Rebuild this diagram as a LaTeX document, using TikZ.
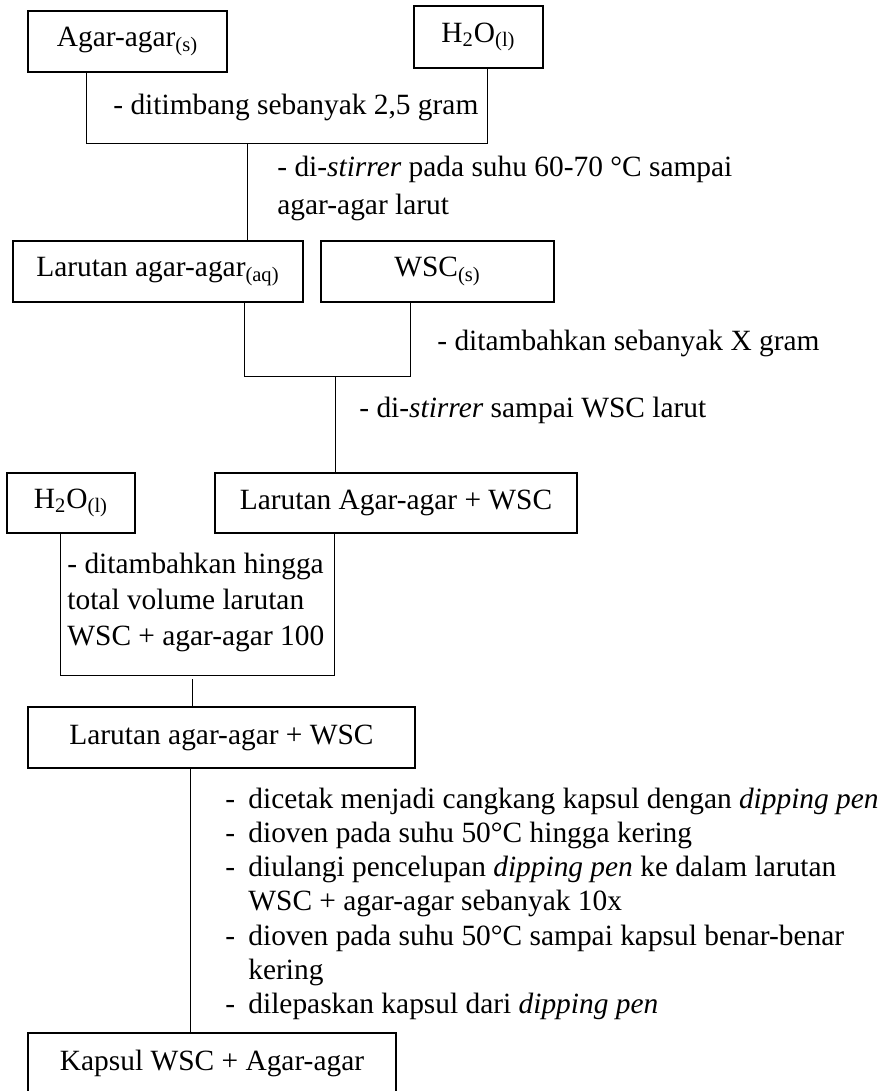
\documentclass[tikz,border=0pt]{standalone}
\usepackage{fontspec}
\setmainfont{Liberation Serif}
\begin{document}
\begin{tikzpicture}[x=0.5pt,y=-0.5pt,
  box/.style={draw, line width=1pt, inner sep=0pt, font=\fontsize{14.7}{17.5}\selectfont},
  conn/.style={draw, line width=0.5pt},
  note/.style={anchor=base west, inner sep=0pt, font=\fontsize{14.7}{17.5}\selectfont}]
\useasboundingbox (0,0) rectangle (885,1091);
\clip (0,0) rectangle (885,1091);

% boxes
\node[box, minimum width=99.5pt, minimum height=30.5pt] (A)  at (127.5,41.5) {Agar-agar\textsubscript{(s)}};
\node[box, minimum width=64.5pt, minimum height=31pt]   (H1) at (478.5,37)   {H\textsubscript{2}O\textsubscript{(l)}};
\node[box, minimum width=145pt,  minimum height=30.5pt] (L1) at (158,271.5)  {Larutan agar-agar\textsubscript{(aq)}};
\node[box, minimum width=116.5pt,minimum height=30.5pt] (W)  at (437.5,271.5){WSC\textsubscript{(s)}};
\node[box, minimum width=64pt,   minimum height=30pt]   (H2) at (71,503)     {H\textsubscript{2}O\textsubscript{(l)}};
\node[box, minimum width=181pt,  minimum height=30pt]   (L2) at (396,503)    {Larutan Agar-agar + WSC};
\node[box, minimum width=193.5pt,minimum height=30.5pt] (L3) at (221.5,737.5){Larutan agar-agar + WSC};
\node[box, minimum width=184pt,  minimum height=30.5pt] (K)  at (212,1063.5) {Kapsul WSC + Agar-agar};

% junction points
\coordinate (b1l) at (86,144);  \coordinate (b1r) at (487,144); \coordinate (m1) at (247,144);
\coordinate (b2l) at (244,376); \coordinate (b2r) at (410,376); \coordinate (m2) at (335,376);
\coordinate (b3l) at (60,675);  \coordinate (b3r) at (334,675); \coordinate (m3) at (192,679);
\coordinate (m4) at (190,768);

% connectors
\draw[conn] (A.south -| b1l) -- (b1l) -- (b1r) -- (H1.south -| b1r);
\draw[conn] (m1) -- (L1.north -| m1);
\draw[conn] (L1.south -| b2l) -- (b2l) -- (b2r) -- (W.south -| b2r);
\draw[conn] (m2) -- (L2.north -| m2);
\draw[conn] (H2.south -| b3l) -- (b3l) -- (b3r) -- (L2.south -| b3r);
\draw[conn] (m3) -- (L3.north -| m3);
\draw[conn] (L3.south -| m4) -- (K.north -| m4);

% step notes
\node[note] (t1)  at (113,115) {- ditimbang sebanyak 2,5 gram};
\node[note] (t2a) at (277,177) {- di-\textit{stirrer} pada suhu 60-70 °C sampai};
\node[note] (t2b) at (277,214) {agar-agar larut};
\node[note] (t3)  at (437,350) {- ditambahkan sebanyak X gram};
\node[note] (t4)  at (359,417) {- di-\textit{stirrer} sampai WSC larut};
\node[note] (t5a) at (67,573)  {- ditambahkan hingga};
\node[note] (t5b) at (67,609)  {total volume larutan};
\node[note] (t5c) at (67,645)  {WSC + agar-agar 100};

% final procedure list
\node[note] (d1) at (225,808)  {-};
\node[note] (s1) at (248,808)  {dicetak menjadi cangkang kapsul dengan \textit{dipping pen}};
\node[note] (d2) at (225,842)  {-};
\node[note] (s2) at (248,842)  {dioven pada suhu 50°C hingga kering};
\node[note] (d3) at (225,876)  {-};
\node[note] (s3) at (248,876)  {diulangi pencelupan \textit{dipping pen} ke dalam larutan};
\node[note] (s3b) at (248,910) {WSC + agar-agar sebanyak 10x};
\node[note] (d4) at (225,945)  {-};
\node[note] (s4) at (248,945)  {dioven pada suhu 50°C sampai kapsul benar-benar};
\node[note] (s4b) at (248,979) {kering};
\node[note] (d5) at (225,1013) {-};
\node[note] (s5) at (248,1013) {dilepaskan kapsul dari \textit{dipping pen}};
\end{tikzpicture}
\end{document}
